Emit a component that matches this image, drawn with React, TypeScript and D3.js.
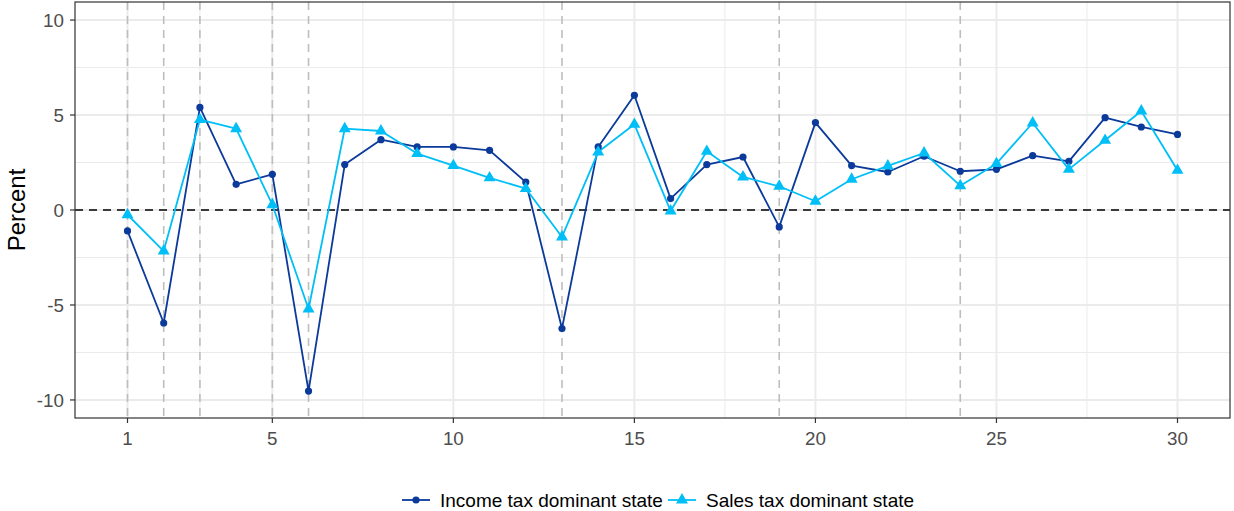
import React from "react";
import * as d3 from "d3";

// Periods 1..30
const periods: number[] = d3.range(1, 31);

// Percent change, income tax dominant states
const incomeTax: number[] = [
  -1.1, -5.95, 5.4, 1.35, 1.88, -9.53, 2.39, 3.7, 3.32, 3.32,
  3.14, 1.47, -6.24, 3.32, 6.04, 0.6, 2.39, 2.79, -0.89, 4.6,
  2.34, 2.0, 2.83, 2.04, 2.14, 2.86, 2.56, 4.86, 4.37, 3.98,
];

// Percent change, sales tax dominant states
const salesTax: number[] = [
  -0.25, -2.16, 4.76, 4.28, 0.28, -5.21, 4.28, 4.16, 2.97, 2.34,
  1.69, 1.13, -1.42, 3.05, 4.51, -0.05, 3.09, 1.74, 1.25, 0.46,
  1.62, 2.32, 3.0, 1.28, 2.44, 4.58, 2.14, 3.67, 5.21, 2.09,
];

// Periods marked with a vertical reference line
const markedPeriods: number[] = [1, 2, 3, 5, 6, 13, 19, 24];

const xTicks: number[] = [1, 5, 10, 15, 20, 25, 30];
const yTicks: number[] = [-10, -5, 0, 5, 10];
const yMinorTicks: number[] = [-7.5, -2.5, 2.5, 7.5];
const xMinorTicks: number[] = [3, 7.5, 12.5, 17.5, 22.5, 27.5];

const seriesNames: string[] = ["Income tax dominant state", "Sales tax dominant state"];

const DARK = "#0B3A9B";
const LIGHT = "#00BFF7";
const FONT = "'Liberation Sans', Arial, sans-serif";

export default function App() {
  const W = 1234;
  const H = 511;
  const left = 75;
  const right = 1230;
  const top = 2;
  const bottom = 418;

  const x = d3.scaleLinear().domain([1 - 1.45, 30 + 1.45]).range([left, right]);
  const y = d3.scaleLinear().domain([-10.95, 10.95]).range([bottom, top]);

  const line = d3
    .line<number>()
    .x((_, i) => x(periods[i]))
    .y((d) => y(d));

  const tri = d3.symbol().type(d3.symbolTriangle).size(62)();

  return (
    <svg
      width={W}
      height={H}
      style={{ position: "absolute", left: 0, top: 0, display: "block" }}
      fontFamily={FONT}
    >
      <rect x={0} y={0} width={W} height={H} fill="white" />
      {/* minor grid */}
      {yMinorTicks.map((t) => (
        <line key={"ym" + t} x1={left} x2={right} y1={y(t)} y2={y(t)} stroke="#EBEBEB" strokeWidth={1} />
      ))}
      {xMinorTicks.map((t) => (
        <line key={"xm" + t} x1={x(t)} x2={x(t)} y1={top} y2={bottom} stroke="#EBEBEB" strokeWidth={1} />
      ))}
      {/* major grid */}
      {yTicks.map((t) => (
        <line key={"yg" + t} x1={left} x2={right} y1={y(t)} y2={y(t)} stroke="#EBEBEB" strokeWidth={2} />
      ))}
      {xTicks.map((t) => (
        <line key={"xg" + t} x1={x(t)} x2={x(t)} y1={top} y2={bottom} stroke="#EBEBEB" strokeWidth={2} />
      ))}

      {/* vertical reference lines */}
      {markedPeriods.map((p) => (
        <line
          key={"v" + p}
          x1={x(p)}
          x2={x(p)}
          y1={top}
          y2={bottom}
          stroke="#BEBEBE"
          strokeWidth={1.6}
          strokeDasharray="8 6"
        />
      ))}
      {/* zero line */}
      <line
        x1={left}
        x2={right}
        y1={y(0)}
        y2={y(0)}
        stroke="#000"
        strokeWidth={1.6}
        strokeDasharray="8 6"
      />

      {/* series lines */}
      <path d={line(incomeTax) ?? ""} fill="none" stroke={DARK} strokeWidth={1.8} strokeLinejoin="round" />
      <path d={line(salesTax) ?? ""} fill="none" stroke={LIGHT} strokeWidth={1.8} strokeLinejoin="round" />

      {/* markers */}
      {incomeTax.map((v, i) => (
        <circle key={"c" + i} cx={x(periods[i])} cy={y(v)} r={3.6} fill={DARK} />
      ))}
      {salesTax.map((v, i) => (
        <path key={"t" + i} d={tri ?? ""} transform={`translate(${x(periods[i])},${y(v)})`} fill={LIGHT} />
      ))}

      {/* panel border */}
      <rect x={left} y={top} width={right - left} height={bottom - top} fill="none" stroke="#333" strokeWidth={1.2} />

      {/* y axis */}
      {yTicks.map((t) => (
        <g key={"yt" + t}>
          <line x1={left - 5} x2={left} y1={y(t)} y2={y(t)} stroke="#333" strokeWidth={1.2} />
          <text x={left - 11} y={y(t)} dy="0.36em" textAnchor="end" fontSize={18.8} fill="#4D4D4D">
            {t}
          </text>
        </g>
      ))}
      {/* x axis */}
      {xTicks.map((t) => (
        <g key={"xt" + t}>
          <line x1={x(t)} x2={x(t)} y1={bottom} y2={bottom + 5} stroke="#333" strokeWidth={1.2} />
          <text x={x(t)} y={bottom + 20} dy="0.36em" textAnchor="middle" fontSize={18.8} fill="#4D4D4D">
            {t}
          </text>
        </g>
      ))}

      <text
        transform={`translate(${25},${(top + bottom) / 2}) rotate(-90)`}
        textAnchor="middle"
        fontSize={24}
        fill="#000"
      >
        Percent
      </text>

      {/* legend */}
      <g transform="translate(402,500)">
        <line x1={0} x2={28} y1={0} y2={0} stroke={DARK} strokeWidth={1.8} />
        <circle cx={14} cy={0} r={3.6} fill={DARK} />
        <text x={38} y={0} dy="0.36em" fontSize={19} fill="#000">
          {seriesNames[0]}
        </text>
      </g>
      <g transform="translate(668,500)">
        <line x1={0} x2={28} y1={0} y2={0} stroke={LIGHT} strokeWidth={1.8} />
        <path d={tri ?? ""} transform="translate(14,0)" fill={LIGHT} />
        <text x={38} y={0} dy="0.36em" fontSize={19} fill="#000">
          {seriesNames[1]}
        </text>
      </g>
    </svg>
  );
}
